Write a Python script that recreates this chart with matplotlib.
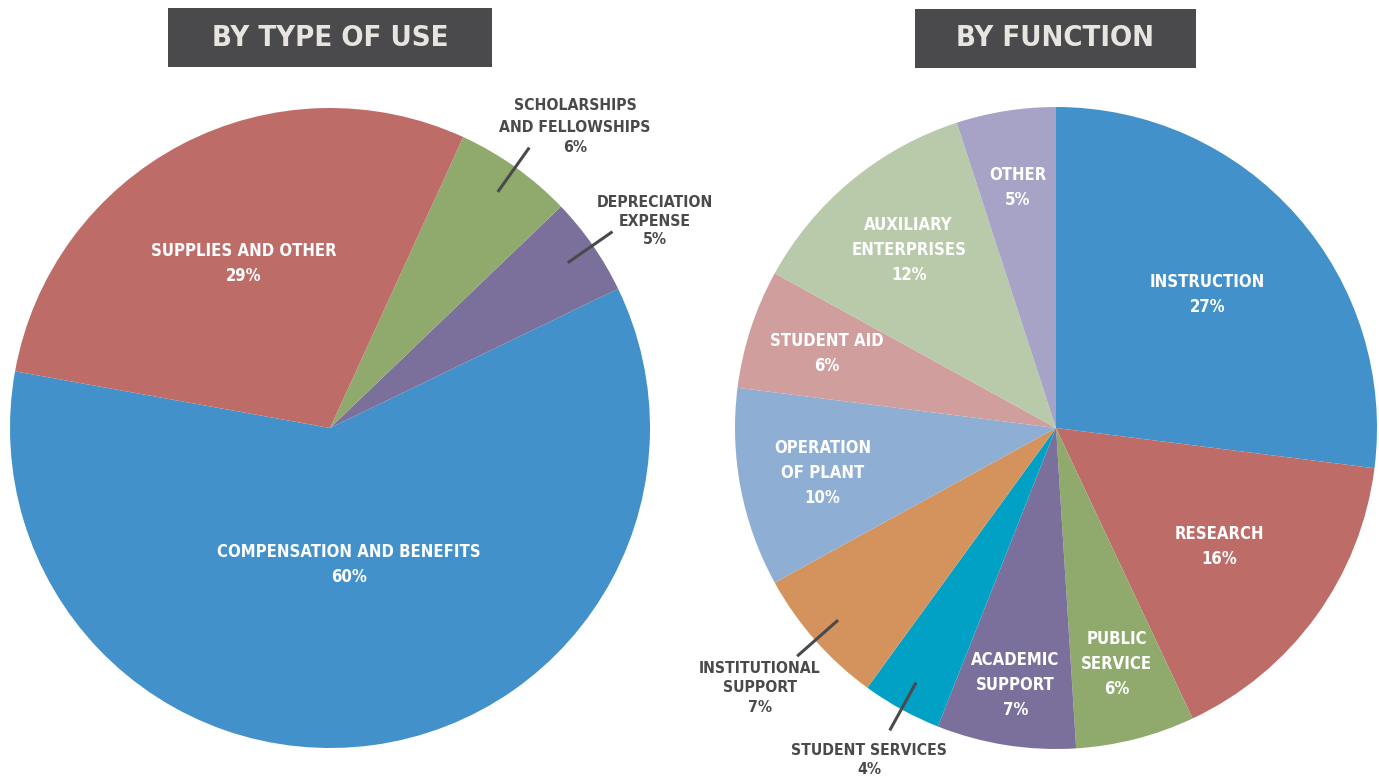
import numpy as np
import matplotlib.pyplot as plt
from matplotlib.patches import Rectangle

plt.rcParams['font.family'] = ['DejaVu Sans']
plt.rcParams['font.weight'] = 'bold'
plt.rcParams['font.stretch'] = 'condensed'

# by type of use (counterclockwise from the left)
use_labels = ['COMPENSATION AND BENEFITS', 'DEPRECIATION\nEXPENSE', 'SCHOLARSHIPS\nAND FELLOWSHIPS', 'SUPPLIES AND OTHER']
use_values = [60, 5, 6, 29]
use_colors = ['#4391CA', '#7B709B', '#8FAA6C', '#BE6C67']

# by function (clockwise from 12 o'clock)
fn_labels = ['INSTRUCTION', 'RESEARCH', 'PUBLIC\nSERVICE', 'ACADEMIC\nSUPPORT', 'STUDENT SERVICES',
             'INSTITUTIONAL\nSUPPORT', 'OPERATION\nOF PLANT', 'STUDENT AID', 'AUXILIARY\nENTERPRISES', 'OTHER']
fn_values = [27, 16, 6, 7, 4, 7, 10, 6, 12, 5]
fn_colors = ['#4391CA', '#BE6C67', '#8FAA6C', '#7B709B', '#01A1C6', '#D4935C',
             '#8EAED4', '#CF9E9D', '#B8CAA9', '#A6A3C7']

dark = '#4A4A4C'
H = 782

fig = plt.figure(figsize=(13.79, 7.82), dpi=100)
ax = fig.add_axes([0, 0, 1, 1])

c1, r1 = (330, H - 428), 320
c2, r2 = (1056, H - 428), 321

w1, _ = ax.pie(use_values, colors=use_colors, startangle=169.8, center=c1, radius=r1,
               wedgeprops=dict(linewidth=0))
w2, _ = ax.pie(fn_values, colors=fn_colors, startangle=90, counterclock=False, center=c2, radius=r2,
               wedgeprops=dict(linewidth=0))


def polar(c, r, ang):
    a = np.deg2rad(ang)
    return c[0] + r * np.cos(a), c[1] + r * np.sin(a)


def inside(w, c, r, lab, val, frac):
    mid = (w.theta1 + w.theta2) / 2
    x, y = polar(c, r * frac, mid)
    ax.text(x, y, f'{lab}\n{val}%', color='white', fontsize=12, ha='center', va='center',
            linespacing=1.5)


def outside(w, c, r, lab, val, tx, ty, ls=1.5):
    mid = (w.theta1 + w.theta2) / 2
    x0, y0 = polar(c, r * 0.905, mid)
    x1, y1 = polar(c, r * 1.075, mid)
    ax.plot([x0, x1], [y0, y1], color=dark, lw=2.2, solid_capstyle='butt')
    ax.text(tx, H - ty, f'{lab}\n{val}%', color=dark, fontsize=11.3, ha='center', va='center',
            linespacing=ls)


inside(w1[0], c1, r1, use_labels[0], use_values[0], 0.43)
inside(w1[3], c1, r1, use_labels[3], use_values[3], 0.58)
outside(w1[2], c1, r1, use_labels[2], use_values[2], 575, 127)
outside(w1[1], c1, r1, use_labels[1], use_values[1], 655, 221, ls=1.3)

fracs = [0.63, 0.63, 0.76, 0.81, None, None, 0.74, 0.75, 0.72, 0.76]
for w, lab, val, f in zip(w2, fn_labels, fn_values, fracs):
    if f is not None:
        inside(w, c2, r2, lab, val, f)
outside(w2[4], c2, r2, fn_labels[4], fn_values[4], 869, 760, ls=1.3)
outside(w2[5], c2, r2, fn_labels[5], fn_values[5], 760, 688, ls=1.35)

# title boxes
for x0, x1, y0, y1, t in [(168, 492, 8, 67, 'BY TYPE OF USE'), (915, 1196, 9, 68, 'BY FUNCTION')]:
    ax.add_patch(Rectangle((x0, H - y1), x1 - x0, y1 - y0, color=dark, lw=0))
    ax.text((x0 + x1) / 2, H - (y0 + y1) / 2, t, color='#E8E5E0', fontsize=21,
            ha='center', va='center')

ax.set_xlim(0, 1379)
ax.set_ylim(0, H)
ax.set_aspect('equal')
ax.axis('off')

fig.savefig('out.png', dpi=100, facecolor='white')
